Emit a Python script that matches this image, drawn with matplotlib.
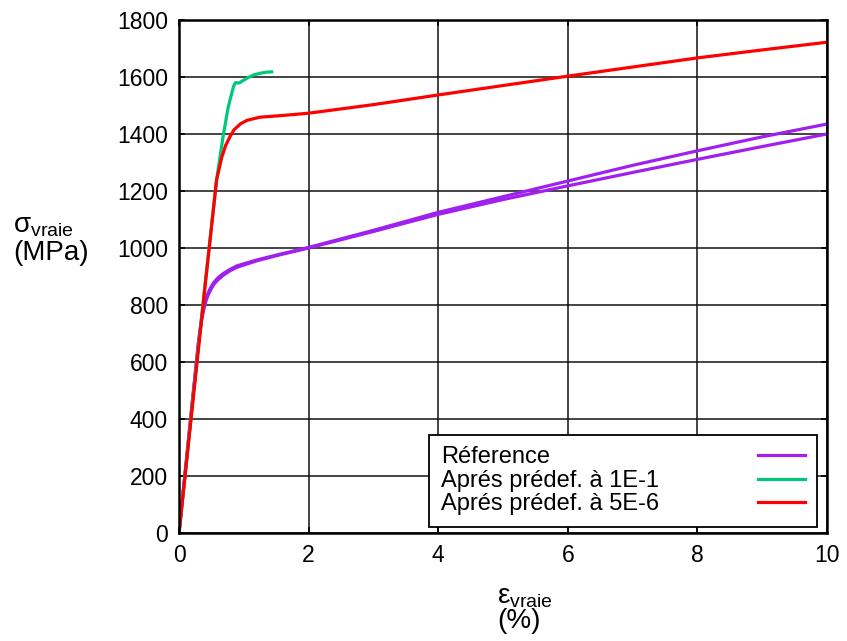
import matplotlib
matplotlib.use("Agg")
import matplotlib.pyplot as plt

plt.rcParams['font.family'] = ['Liberation Sans', 'DejaVu Sans']
plt.rcParams['mathtext.fontset'] = 'custom'
plt.rcParams['mathtext.rm'] = 'Liberation Sans'
plt.rcParams['mathtext.it'] = 'Liberation Sans:italic'

# Reference (two nearly superposed purple curves)
ref_a_x = [0, 0.1, 0.2, 0.3, 0.35, 0.38, 0.42, 0.46, 0.5, 0.54, 0.6, 0.68, 0.78, 0.89, 1.05, 1.2, 1.5, 2.0, 3, 4, 5, 6, 7, 8, 9, 10]
ref_a_y = [0, 225, 450, 670, 755, 790, 825, 848, 866, 880, 895, 910, 924, 937, 948, 958, 975, 1002, 1062, 1125, 1180, 1235, 1290, 1341, 1390, 1435]
ref_b_x = [0, 0.1, 0.2, 0.3, 0.35, 0.38, 0.42, 0.46, 0.5, 0.54, 0.6, 0.68, 0.78, 0.89, 1.05, 1.2, 1.5, 2.0, 3, 4, 5, 6, 7, 8, 9, 10]
ref_b_y = [0, 220, 445, 665, 748, 782, 817, 840, 858, 873, 888, 904, 919, 932, 944, 955, 973, 1000, 1058, 1118, 1170, 1218, 1265, 1311, 1356, 1400]

# Aprés prédef. à 1E-1 (green)
g_x = [0, 0.2, 0.4, 0.58, 0.68, 0.76, 0.84, 0.87, 0.93, 0.97, 1.05, 1.15, 1.25, 1.35, 1.43]
g_y = [0, 440, 870, 1239, 1391, 1495, 1566, 1580, 1579, 1585, 1596, 1607, 1613, 1617, 1618]

# Aprés prédef. à 5E-6 (red)
r_x = [0, 0.2, 0.4, 0.58, 0.66, 0.72, 0.79, 0.85, 0.95, 1.05, 1.25, 1.6, 2, 3, 4, 5, 6, 7, 8, 9, 10]
r_y = [0, 430, 860, 1239, 1318, 1360, 1392, 1415, 1436, 1448, 1459, 1465, 1473, 1503, 1537, 1570, 1603, 1635, 1667, 1695, 1722]

x_ticks = [0, 2, 4, 6, 8, 10]
y_ticks = [0, 200, 400, 600, 800, 1000, 1200, 1400, 1600, 1800]

labels = ['Réference', 'Aprés prédef. à 1E-1', 'Aprés prédef. à 5E-6']
colors = ['#a020f0', '#00c87a', '#ff0000']

DPI = 100
fig = plt.figure(figsize=(8.47, 6.41), dpi=DPI)
ax = fig.add_axes([179/847, 1 - 533/641, (827-179)/847, (533-20)/641])

lw = 2.3
ax.plot(ref_a_x, ref_a_y, color=colors[0], lw=lw, label=labels[0])
ax.plot(ref_b_x, ref_b_y, color=colors[0], lw=lw)
ax.plot(g_x, g_y, color=colors[1], lw=lw, label=labels[1])
ax.plot(r_x, r_y, color=colors[2], lw=lw, label=labels[2])

ax.set_xlim(0, 10)
ax.set_ylim(0, 1800)
ax.set_xticks(x_ticks)
ax.set_yticks(y_ticks)
ax.tick_params(labelsize=16.5, direction='in', length=4, width=1.2, top=True, right=True, pad=8)
ax.grid(True, color='#111111', lw=1.1)
ax.set_axisbelow(True)
for s in ax.spines.values():
    s.set_linewidth(1.8)

leg = ax.legend(loc='lower right', bbox_to_anchor=(817/847, 1 - 527/641),
                bbox_transform=fig.transFigure, markerfirst=False,
                fontsize=17, frameon=True, fancybox=False, framealpha=1,
                edgecolor='black', handlelength=2.0, handletextpad=4.2,
                borderpad=0.5, labelspacing=0.06, borderaxespad=0)
leg.get_frame().set_linewidth(1.3)

# left-align legend texts while keeping handles aligned on the right
fig.canvas.draw()
rend = fig.canvas.get_renderer()
texts = leg.get_texts()
widths = [t.get_window_extent(rend).width for t in texts]
maxw = max(widths)
items = leg._legend_handle_box.get_children()[0].get_children()
for item, w in zip(items, widths):
    item.sep = item.sep + (maxw - w) * 72.0 / DPI

fig.text(13/847, 1 - 226/641, r'$\mathrm{σ}_{\mathrm{vraie}}$', fontsize=20, ha='left', va='center')
fig.text(13/847, 1 - 253/641, '(MPa)', fontsize=20, ha='left', va='center')
fig.text(497/847, 1 - 597/641, r'$\mathrm{ε}_{\mathrm{vraie}}$', fontsize=20, ha='left', va='center')
fig.text(497/847, 1 - 621/641, '(%)', fontsize=20, ha='left', va='center')

fig.savefig('out.png', dpi=DPI)
